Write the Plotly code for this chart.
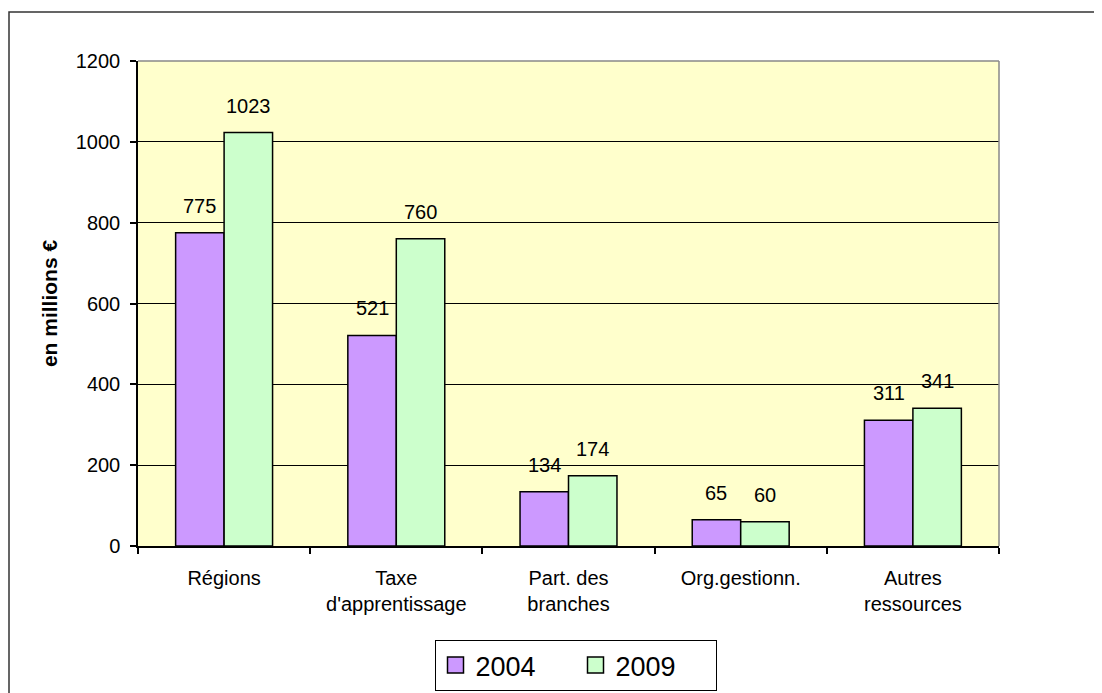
import plotly.graph_objects as go

categories = ["Régions", "Taxe<br>d'apprentissage", "Part. des<br>branches", "Org.gestionn.", "Autres<br>ressources"]
series_names = ["2004", "2009"]
values_2004 = [775, 521, 134, 65, 311]
values_2009 = [1023, 760, 174, 60, 341]
y_ticks = [0, 200, 400, 600, 800, 1000, 1200]

colors = ["#CC99FF", "#CCFFCC"]
FONT = "Liberation Sans, Arial, sans-serif"

# page has an 8px body margin
OFF = 8
W, H = 1102, 693
PW, PH = 861, 485
ML, MT = 138 - OFF, 61 - OFF
MR, MB = W - ML - PW, H - MT - PH

fig = go.Figure()
bargap = 0.437
bar_w = (1 - bargap) / 2
for name, vals, col, off in [(series_names[0], values_2004, colors[0], -bar_w / 2),
                             (series_names[1], values_2009, colors[1], bar_w / 2)]:
    fig.add_trace(go.Bar(
        x=categories, y=vals, name=name, showlegend=False,
        marker=dict(color=col, line=dict(color="black", width=1.5)),
    ))
    for i, v in enumerate(vals):
        fig.add_annotation(x=i + off, y=v, xref="x", yref="y", text=str(v),
                           showarrow=False, yanchor="bottom", yshift=14,
                           font=dict(family=FONT, size=20, color="black"))
    # legend proxy
    fig.add_trace(go.Scatter(
        x=[None], y=[None], mode="markers", name=name,
        marker=dict(symbol="square", size=16, color=col, line=dict(color="black", width=1.5)),
    ))

def px_to_paper_x(px):
    return (px - OFF - ML) / PW

def px_to_paper_y(py):
    return (MT + PH - (py - OFF)) / PH

shapes = [
    dict(type="rect", xref="paper", yref="paper",
         x0=px_to_paper_x(9), x1=px_to_paper_x(1120), y0=px_to_paper_y(710), y1=px_to_paper_y(12),
         line=dict(color="#333333", width=1.5), fillcolor="rgba(0,0,0,0)", layer="below"),
    dict(type="line", xref="paper", yref="paper", x0=0, x1=1, y0=1, y1=1,
         line=dict(color="#888888", width=1.5), layer="above"),
    dict(type="line", xref="paper", yref="paper", x0=1, x1=1, y0=0, y1=1,
         line=dict(color="#888888", width=1.5), layer="above"),
]

fig.update_layout(
    width=W, height=H,
    margin=dict(l=ML, r=MR, t=MT, b=MB, autoexpand=False),
    paper_bgcolor="white", plot_bgcolor="#FFFFCC",
    barmode="group", bargap=bargap, bargroupgap=0,
    font=dict(family=FONT, size=20, color="black"),
    shapes=shapes,
    legend=dict(orientation="h", x=px_to_paper_x(575.5), xanchor="center",
                y=px_to_paper_y(640), yanchor="top",
                bordercolor="black", borderwidth=1, bgcolor="white",
                font=dict(family=FONT, size=27, color="black"),
                itemsizing="trace", entrywidth=95, entrywidthmode="pixels"),
)
fig.update_xaxes(
    type="category", showline=True, linecolor="black", linewidth=1.5,
    ticks="outside", tickson="boundaries", ticklen=6, tickcolor="black", tickwidth=1.5,
    showgrid=False, tickfont=dict(family=FONT, size=20), ticklabelstandoff=13,
)
fig.update_yaxes(
    range=[0, 1200], tickvals=y_ticks, showline=True, linecolor="black", linewidth=1.5,
    ticks="outside", ticklen=6, tickcolor="black", tickwidth=1.5,
    showgrid=True, gridcolor="black", gridwidth=1, zeroline=False,
    tickfont=dict(family=FONT, size=20), ticklabelstandoff=6,
    title=dict(text="<b>en millions €</b>", font=dict(family=FONT, size=21), standoff=12),
)

fig.write_html("out.html")
